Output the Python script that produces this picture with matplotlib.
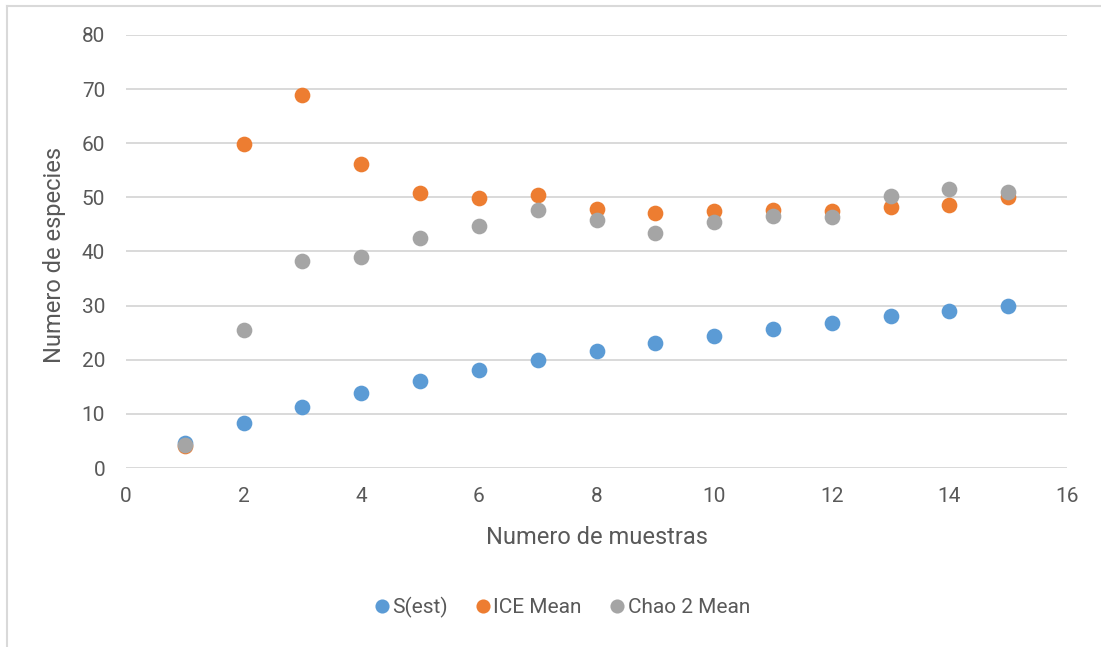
import matplotlib

matplotlib.use("Agg")
import matplotlib.pyplot as plt
from matplotlib.lines import Line2D

# species accumulation estimates per number of samples
muestras = [1, 2, 3, 4, 5, 6, 7, 8, 9, 10, 11, 12, 13, 14, 15]
s_est = [4.6, 8.3, 11.2, 13.8, 16.1, 18.1, 19.9, 21.6, 23.1, 24.4, 25.6, 26.8, 28.0, 29.0, 29.9]
ice_mean = [4.15, 59.9, 69.0, 56.1, 50.9, 49.9, 50.5, 47.8, 47.1, 47.5, 47.7, 47.5, 48.2, 48.6, 50.0]
chao2_mean = [4.2, 25.5, 38.3, 39.0, 42.5, 44.7, 47.6, 45.9, 43.5, 45.4, 46.5, 46.3, 50.3, 51.5, 51.0]

series = [("S(est)", s_est, "#5B9BD5"),
          ("ICE Mean", ice_mean, "#ED7D31"),
          ("Chao 2 Mean", chao2_mean, "#A5A5A5")]

TXT = "#595959"
GRID = "#D9D9D9"
FONT = "Roboto"

W, H = 1101, 647
fig = plt.figure(figsize=(W / 100, H / 100), dpi=100)
fig.patch.set_facecolor("white")
ax = fig.add_axes([126 / W, 1 - 468 / H, (1067 - 126) / W, 433 / H])

for name, vals, col in series:
    ax.plot(muestras, vals, linestyle="none", marker="o", markersize=11.3,
            markeredgewidth=0, color=col, label=name, zorder=3)

ax.set_xlim(0, 16)
ax.set_ylim(0, 80)
ax.set_xticks(range(0, 17, 2))
ax.set_yticks(range(0, 81, 10))
ax.grid(axis="y", color=GRID, linewidth=1.4)
ax.grid(axis="x", visible=False)
ax.set_axisbelow(True)
for sp in ax.spines.values():
    sp.set_visible(False)
ax.tick_params(length=0, labelsize=15, labelcolor=TXT)
ax.tick_params(axis="y", pad=15)
ax.tick_params(axis="x", pad=14)
for lab in ax.get_xticklabels() + ax.get_yticklabels():
    lab.set_family(FONT)

ax.set_xlabel("Numero de muestras", fontsize=17, color=TXT, family=FONT)
ax.xaxis.set_label_coords(0.5, (468 - 538) / 433)
ax.xaxis.label.set_va("center")
ax.set_ylabel("Numero de especies", fontsize=17, color=TXT, family=FONT)
ax.yaxis.set_label_coords((55 - 126) / 941, (468 - 255) / 433)
ax.yaxis.label.set_va("center")

leg = fig.legend(loc="center", bbox_to_anchor=(561 / W, 1 - 607 / H), ncol=3,
                 frameon=False, handletextpad=0.05, columnspacing=1.25,
                 handlelength=0.9, markerscale=0.9,
                 prop={"family": FONT, "size": 15})
for t in leg.get_texts():
    t.set_color(TXT)

# chart-area border (left and top edges)
fig.add_artist(Line2D([7 / W, 7 / W], [0, 1 - 6 / H], transform=fig.transFigure,
                      color=GRID, linewidth=1.5))
fig.add_artist(Line2D([7 / W, 1], [1 - 6 / H, 1 - 6 / H], transform=fig.transFigure,
                      color=GRID, linewidth=1.5))

fig.savefig("out.png", dpi=100, facecolor="white")
